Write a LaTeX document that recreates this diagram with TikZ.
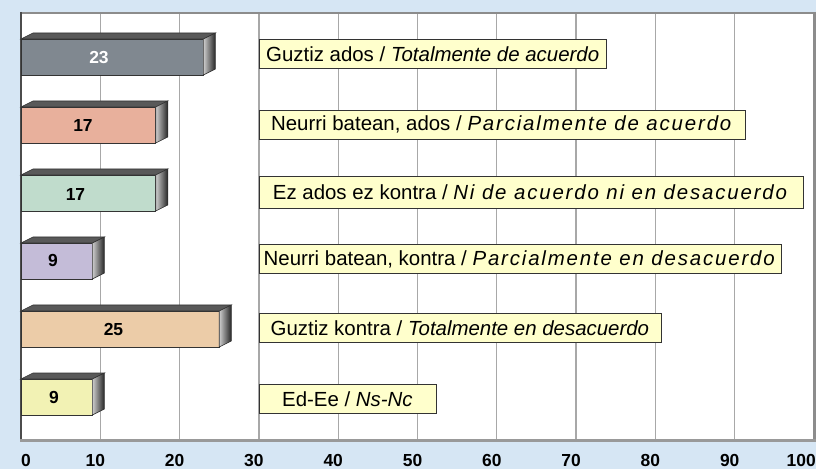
\documentclass[tikz,border=0pt]{standalone}
\usepackage{fontspec}
\setmainfont{Liberation Sans}
\usepackage{tikz}
\usetikzlibrary{positioning}
\definecolor{bgblue}{RGB}{214,230,244}
\definecolor{gridgray}{RGB}{168,168,168}
\definecolor{boxyellow}{RGB}{255,255,204}
\definecolor{barA}{RGB}{128,136,144}
\definecolor{barB}{RGB}{232,176,156}
\definecolor{barC}{RGB}{192,220,204}
\definecolor{barD}{RGB}{196,188,216}
\definecolor{barE}{RGB}{236,204,168}
\definecolor{barF}{RGB}{242,242,180}
\newcommand{\xu}{7.93}
\newcommand{\dx}{12}
\newcommand{\dy}{6}
\newcommand{\lsp}{\addfontfeature{LetterSpace=9}}
\tikzset{
  labbox/.style={draw=black!80, fill=boxyellow, line width=0.8bp, anchor=west,
    minimum height=29bp, inner sep=0pt, font=\fontsize{20.5}{22}\selectfont},
  valtxt/.style={font=\fontsize{17.5}{19}\selectfont\bfseries},
  ticktxt/.style={font=\fontsize{17.5}{19}\selectfont\bfseries},
  barfront/.style={draw=black!80, line width=0.8bp},
  bartop/.style={draw=black!80, fill=black!65, line width=0.6bp},
  barside/.style={draw=black!80, left color=black!20, right color=black!85, line width=0.6bp}
}
\begin{document}
\begin{tikzpicture}[x=1bp, y=-1bp]
		\useasboundingbox (0, 0) rectangle (816, 469);
		\fill [bgblue] (0, 0) rectangle (816, 469);
		\fill [white] (21, 13) rectangle (814, 440);
		% grid
		\draw [gridgray, line width=1.3bp] (21+10*\xu, 13)--(21+10*\xu, 440);
		\draw [gridgray, line width=1.3bp] (21+20*\xu, 13)--(21+20*\xu, 440);
		\draw [gridgray, line width=1.3bp] (21+30*\xu, 13)--(21+30*\xu, 440);
		\draw [gridgray, line width=1.3bp] (21+40*\xu, 13)--(21+40*\xu, 440);
		\draw [gridgray, line width=1.3bp] (21+50*\xu, 13)--(21+50*\xu, 440);
		\draw [gridgray, line width=1.3bp] (21+60*\xu, 13)--(21+60*\xu, 440);
		\draw [gridgray, line width=1.3bp] (21+70*\xu, 13)--(21+70*\xu, 440);
		\draw [gridgray, line width=1.3bp] (21+80*\xu, 13)--(21+80*\xu, 440);
		\draw [gridgray, line width=1.3bp] (21+90*\xu, 13)--(21+90*\xu, 440);
		% frame
		\draw [black!45, line width=2bp] (21, 13)--(814, 13);
		\draw [black!45, line width=3bp] (814.5, 12)--(814.5, 441);
		\draw [black!70, line width=2bp] (21, 12)--(21, 441);
		\draw [black!40, line width=3bp] (20, 440.5)--(816, 440.5);
		% bar 23
		\fill [barA, barfront] (21, 39) rectangle (21+23*\xu, 75);
		\draw [bartop] (21, 39)--(21+\dx, 39-\dy)--(21+23*\xu+\dx, 39-\dy)--(21+23*\xu, 39)--cycle;
		\shade [barside] (21+23*\xu, 39)--(21+23*\xu+\dx, 39-\dy)--(21+23*\xu+\dx, 75-\dy)--(21+23*\xu, 75)--cycle;
		\node [valtxt, white] (v1) at (99, 57.5) {23};
		% bar 17
		\fill [barB, barfront] (21, 107) rectangle (21+17*\xu, 143);
		\draw [bartop] (21, 107)--(21+\dx, 107-\dy)--(21+17*\xu+\dx, 107-\dy)--(21+17*\xu, 107)--cycle;
		\shade [barside] (21+17*\xu, 107)--(21+17*\xu+\dx, 107-\dy)--(21+17*\xu+\dx, 143-\dy)--(21+17*\xu, 143)--cycle;
		\node [valtxt] (v2) at (83, 125.5) {17};
		% bar 17
		\fill [barC, barfront] (21, 175) rectangle (21+17*\xu, 211);
		\draw [bartop] (21, 175)--(21+\dx, 175-\dy)--(21+17*\xu+\dx, 175-\dy)--(21+17*\xu, 175)--cycle;
		\shade [barside] (21+17*\xu, 175)--(21+17*\xu+\dx, 175-\dy)--(21+17*\xu+\dx, 211-\dy)--(21+17*\xu, 211)--cycle;
		\node [valtxt] (v3) at (75.5, 195) {17};
		% bar 9
		\fill [barD, barfront] (21, 243) rectangle (21+9*\xu, 279);
		\draw [bartop] (21, 243)--(21+\dx, 243-\dy)--(21+9*\xu+\dx, 243-\dy)--(21+9*\xu, 243)--cycle;
		\shade [barside] (21+9*\xu, 243)--(21+9*\xu+\dx, 243-\dy)--(21+9*\xu+\dx, 279-\dy)--(21+9*\xu, 279)--cycle;
		\node [valtxt] (v4) at (53, 260.5) {9};
		% bar 25
		\fill [barE, barfront] (21, 311) rectangle (21+25*\xu, 347);
		\draw [bartop] (21, 311)--(21+\dx, 311-\dy)--(21+25*\xu+\dx, 311-\dy)--(21+25*\xu, 311)--cycle;
		\shade [barside] (21+25*\xu, 311)--(21+25*\xu+\dx, 311-\dy)--(21+25*\xu+\dx, 347-\dy)--(21+25*\xu, 347)--cycle;
		\node [valtxt] (v5) at (113.5, 329.5) {25};
		% bar 9
		\fill [barF, barfront] (21, 379) rectangle (21+9*\xu, 415);
		\draw [bartop] (21, 379)--(21+\dx, 379-\dy)--(21+9*\xu+\dx, 379-\dy)--(21+9*\xu, 379)--cycle;
		\shade [barside] (21+9*\xu, 379)--(21+9*\xu+\dx, 379-\dy)--(21+9*\xu+\dx, 415-\dy)--(21+9*\xu, 415)--cycle;
		\node [valtxt] (v6) at (54, 397) {9};
		% labels
		\node [labbox, minimum width=347.5bp] (l1) at (258.5, 54) {Guztiz ados / \textit{Totalmente de acuerdo}};
		\node [labbox, minimum width=486.5bp] (l2) at (258.5, 124.5) {Neurri batean, ados / \textit{\lsp Parcialmente de acuerdo}};
		\node [labbox, minimum width=544bp, minimum height=32bp] (l3) at (258.5, 192.4) {Ez ados ez kontra / \textit{\lsp Ni de acuerdo ni en desacuerdo}};
		\node [labbox, minimum width=522.5bp] (l4) at (258.5, 259) {Neurri batean, kontra / \textit{\lsp Parcialmente en desacuerdo}};
		\node [labbox, minimum width=402bp] (l5) at (258.5, 327.8) {Guztiz kontra / \textit{Totalmente en desacuerdo}};
		\node [labbox, minimum width=177bp] (l6) at (258.5, 398.9) {Ed-Ee / \textit{Ns-Nc}};
		% axis
		\node [ticktxt] (t0) at (26, 460.5) {0};
		\node [ticktxt] (t10) at (21+10*\xu-5, 460.5) {10};
		\node [ticktxt] (t20) at (21+20*\xu-5, 460.5) {20};
		\node [ticktxt] (t30) at (21+30*\xu-5, 460.5) {30};
		\node [ticktxt] (t40) at (21+40*\xu-5, 460.5) {40};
		\node [ticktxt] (t50) at (21+50*\xu-5, 460.5) {50};
		\node [ticktxt] (t60) at (21+60*\xu-5, 460.5) {60};
		\node [ticktxt] (t70) at (21+70*\xu-5, 460.5) {70};
		\node [ticktxt] (t80) at (21+80*\xu-5, 460.5) {80};
		\node [ticktxt] (t90) at (21+90*\xu-5, 460.5) {90};
		\node [ticktxt, anchor=east, inner xsep=0pt] (t100) at (816, 460.5) {100};
	\end{tikzpicture}
\end{document}
